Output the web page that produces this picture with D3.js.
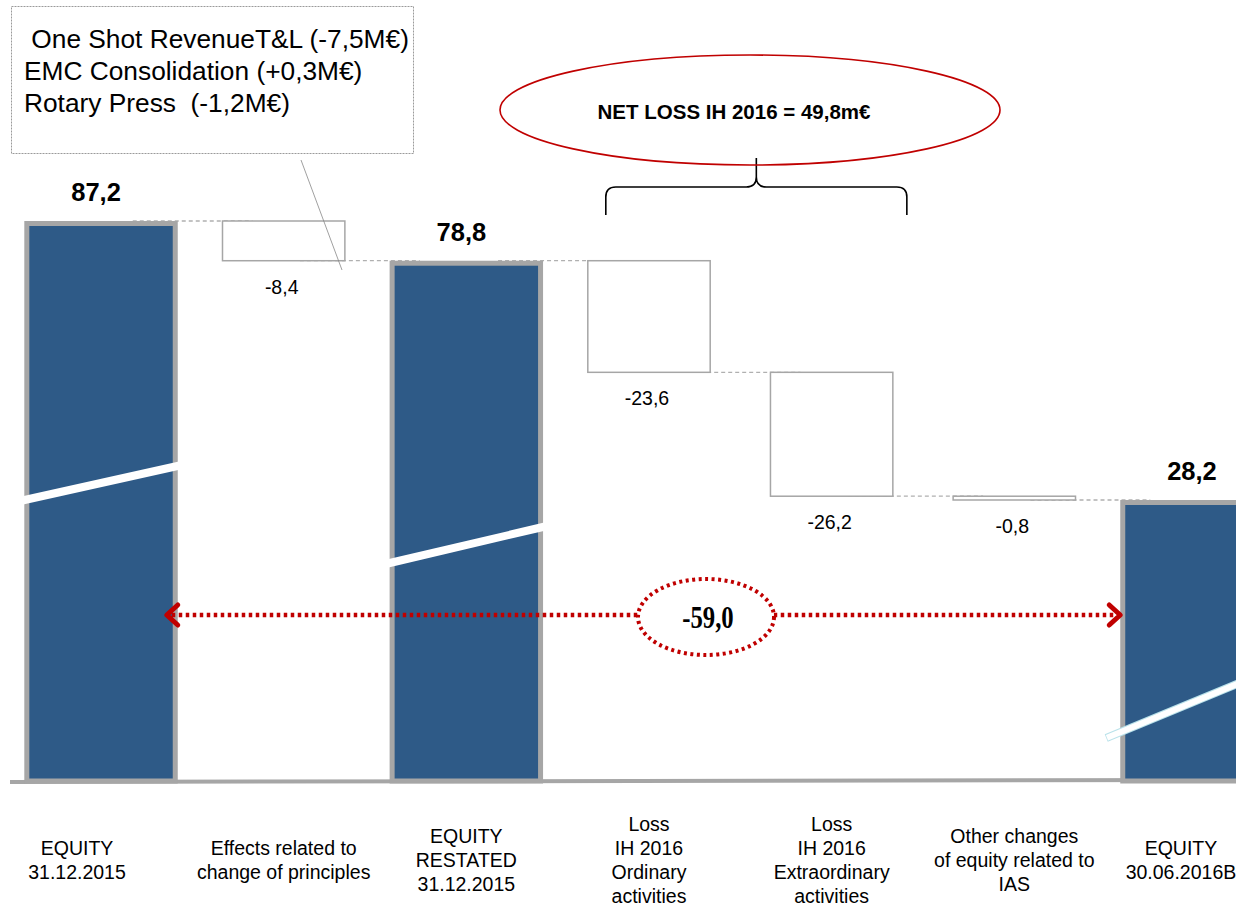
<!DOCTYPE html>
<html>
<head>
<meta charset="utf-8">
<script src="https://cdn.jsdelivr.net/npm/d3@7"></script>
<style>
body{margin:0;background:#fff}
svg{display:block}
</style>
</head>
<body>
<svg id="chart" width="1236" height="908"></svg>
<script>
// waterfall: equity bridge 31.12.2015 -> 30.06.2016
let steps=["EQUITY 31.12.2015","Effects","EQUITY RESTATED","Loss ordinary","Loss extraordinary","Other IAS","EQUITY 30.06.2016"]
let kinds=["total","delta","total","delta","delta","delta","total"]
let values=[87.2,-8.4,78.8,-23.6,-26.2,-0.8,28.2]
let stepLabels=[
["EQUITY","31.12.2015"],
["Effects related to","change of principles"],
["EQUITY","RESTATED","31.12.2015"],
["Loss","IH 2016","Ordinary","activities"],
["Loss","IH 2016","Extraordinary","activities"],
["Other changes","of equity related to","IAS"],
["EQUITY","30.06.2016B"]
]
let noteLines=[" One Shot RevenueT&L (-7,5M\u20ac)","EMC Consolidation (+0,3M\u20ac)","Rotary Press  (-1,2M\u20ac)"]

let fmt=d3.formatLocale({decimal:",",thousands:".",grouping:[3],currency:["","\u20ac"],minus:"-"}).format(".1f")

let svg=d3.select("#chart")
let base=781
let blue="#2e5a87", grey="#a6a6a6", red="#c00000"
let sans="Liberation Sans, Arial, sans-serif"

// running levels
let level=0
let rows=values.map((v,i)=>{
let r
if(kinds[i]==="total"){r={start:v,end:v};level=v}
else{r={start:level,end:level+v};level+=v}
return Object.assign(r,{name:steps[i],kind:kinds[i],value:v,i:i})
})

let totals=rows.filter(d=>d.kind==="total").map(d=>d.value)
// broken value axis: only the part above the break is to scale
let y=d3.scaleLinear().domain(d3.extent(totals)).range([500,221])
let x=d3.scaleBand().domain(steps).range([9.7,1288.3]).padding(0)
let cx=d=>x(d)+x.bandwidth()/2
let wTot=x.bandwidth()*0.84, wDel=x.bandwidth()*0.67
let wOf=d=>d.kind==="total"?wTot:wDel

// connectors
rows.forEach((d,i)=>{
if(i===rows.length-1) return
let n=rows[i+1]
svg.append("line")
.attr("x1",cx(d.name)+wOf(d)/2-45).attr("x2",cx(n.name)-wOf(n)/2+30)
.attr("y1",y(d.end)).attr("y2",y(d.end))
.attr("stroke","#b0b0b0").attr("stroke-width",1.3).attr("stroke-dasharray","4,3")
})

// baseline
svg.append("line").attr("x1",10).attr("x2",1236).attr("y1",base+1).attr("y2",base-1)
.attr("stroke",grey).attr("stroke-width",4)

// totals
rows.filter(d=>d.kind==="total").forEach(d=>{
svg.append("rect")
.attr("x",cx(d.name)-wTot/2+2.5).attr("width",wTot-5)
.attr("y",y(d.value)+2.5).attr("height",base-y(d.value)-2.5)
.attr("fill",blue).attr("stroke",grey).attr("stroke-width",5)
svg.append("text")
.attr("x",cx(d.name)-5).attr("y",y(d.value)-20)
.attr("text-anchor","middle").attr("font-family",sans)
.attr("font-weight","bold").attr("font-size",25.5)
.text(fmt(d.value))
})

// deltas
rows.filter(d=>d.kind==="delta").forEach(d=>{
svg.append("rect")
.attr("x",cx(d.name)-wDel/2).attr("width",wDel)
.attr("y",y(d.start)).attr("height",Math.max(1,y(d.end)-y(d.start)))
.attr("fill","#fff").attr("stroke",grey).attr("stroke-width",1.5)
svg.append("text")
.attr("x",cx(d.name)-2).attr("y",y(d.end)+33)
.attr("text-anchor","middle").attr("font-family",sans)
.attr("font-size",19.5)
.text(fmt(d.value))
})

// axis breaks on the total bars
let brk=[{i:0,ym:483,dy:35,l:2},{i:2,ym:545,dy:37,l:2},{i:6,ym:703,dy:70,l:14}]
brk.forEach(b=>{
let c=cx(steps[b.i])
let x1=c-wTot/2-b.l, x2=c+wTot/2+2
if(b.i===6){
svg.append("line").attr("x1",x1).attr("x2",x2)
.attr("y1",b.ym+b.dy/2).attr("y2",b.ym-b.dy/2)
.attr("stroke","#b9e2ea").attr("stroke-width",8)
svg.append("line").attr("x1",x1+0.7).attr("x2",x2)
.attr("y1",b.ym+b.dy/2-0.3).attr("y2",b.ym-b.dy/2)
.attr("stroke","#fff").attr("stroke-width",6)
return
}
svg.append("line").attr("x1",x1).attr("x2",x2)
.attr("y1",b.ym+b.dy/2).attr("y2",b.ym-b.dy/2)
.attr("stroke","#fff").attr("stroke-width",8)
})

// category labels
stepLabels.forEach((lines,i)=>{
let t=svg.append("text")
.attr("text-anchor","middle")
.attr("font-family",sans)
.attr("font-size",19.5)
let y0=860-(lines.length-1)/2*24+7
let xo=i===0?-24:(i===6?-16:0)
lines.forEach((l,k)=>{
t.append("tspan").attr("x",cx(steps[i])+xo).attr("y",y0+k*24).text(l)
})
})

// note box
svg.append("rect").attr("x",11.5).attr("y",6.5).attr("width",402).attr("height",147)
.attr("fill","#fff").attr("stroke","#9a9a9a").attr("stroke-width",1).attr("stroke-dasharray","2,1")
noteLines.forEach((l,k)=>{
svg.append("text").attr("x",24).attr("y",48+k*32)
.attr("font-family",sans).attr("font-size",26.3)
.style("white-space","pre").text(l)
})
svg.append("line").attr("x1",301).attr("y1",160).attr("x2",342).attr("y2",270)
.attr("stroke","#888").attr("stroke-width",0.8)

// net loss brace + ellipse
let bl=cx(steps[3])-wDel/2+18, br=cx(steps[4])+wDel/2+14
let bm=(bl+br)/2
svg.append("path")
.attr("d",`M${bl},215 L${bl},197 Q${bl},187 ${bl+10},187 L${bm-10},187 Q${bm},187 ${bm},177 L${bm},158 M${bm},177 Q${bm},187 ${bm+10},187 L${br-10},187 Q${br},187 ${br},197 L${br},215`)
.attr("fill","none").attr("stroke","#000").attr("stroke-width",1.6)
svg.append("ellipse").attr("cx",750).attr("cy",110).attr("rx",250).attr("ry",55)
.attr("fill","none").attr("stroke",red).attr("stroke-width",1.6)
let netLoss=-(values[3]+values[4])
svg.append("text").attr("x",734).attr("y",119).attr("text-anchor","middle")
.attr("font-family",sans).attr("font-weight","bold").attr("font-size",20.5)
.text("NET LOSS IH 2016 = "+fmt(netLoss)+"m\u20ac")

// total change arrow
let ay=615
let ax1=cx(steps[0])+wTot/2-11, ax2=cx(steps[6])-wTot/2
svg.append("line").attr("x1",ax1+5).attr("x2",ax2-5).attr("y1",ay).attr("y2",ay)
.attr("stroke",red).attr("stroke-width",4.5).attr("stroke-dasharray","3.5,3.5")
svg.append("path").attr("d",`M${ax1+11},${ay-10} L${ax1},${ay} L${ax1+11},${ay+10}`)
.attr("fill","none").attr("stroke",red).attr("stroke-width",5).attr("stroke-linejoin","round").attr("stroke-linecap","round")
svg.append("path").attr("d",`M${ax2-11},${ay-10} L${ax2},${ay} L${ax2-11},${ay+10}`)
.attr("fill","none").attr("stroke",red).attr("stroke-width",5).attr("stroke-linejoin","round").attr("stroke-linecap","round")
svg.append("ellipse").attr("cx",706).attr("cy",617).attr("rx",68).attr("ry",38)
.attr("fill","#fff").attr("stroke",red).attr("stroke-width",4).attr("stroke-dasharray","3,3.5")
svg.append("text").attr("text-anchor","middle")
.attr("transform","translate(708,628) scale(0.95,1.2)")
.attr("font-family","Liberation Serif, Times New Roman, serif").attr("font-weight","bold").attr("font-size",26)
.text(fmt(totals[2]-totals[0]))
</script>
</body>
</html>
